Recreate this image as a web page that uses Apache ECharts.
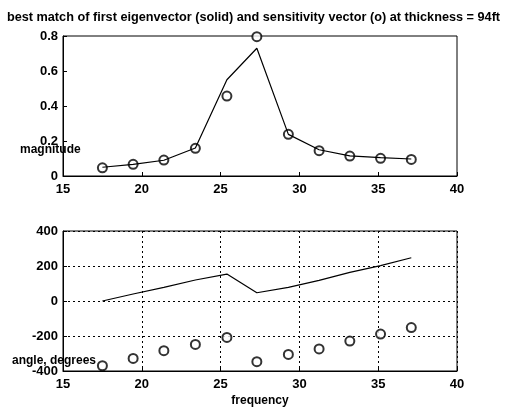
<!DOCTYPE html>
<html>
<head>
<meta charset="utf-8">
<script src="https://cdn.jsdelivr.net/npm/echarts@6/dist/echarts.min.js"></script>
<style>
  html, body { margin: 0; padding: 0; background: #fff; }
  #chart { width: 507px; height: 409px; }
</style>
</head>
<body>
<div id="chart"></div>
<script>
// frequency samples (shared by both panels)
const freq = [17.5, 19.45, 21.4, 23.4, 25.4, 27.3, 29.3, 31.25, 33.2, 35.15, 37.1]

// magnitude panel
const magEigen = [0.05, 0.066, 0.09, 0.16, 0.55, 0.73, 0.238, 0.15, 0.115, 0.105, 0.097]
const magSens = [0.047, 0.067, 0.091, 0.158, 0.457, 0.796, 0.238, 0.145, 0.114, 0.101, 0.095]

// angle panel (degrees)
const angEigen = [0, 40, 78, 120, 154, 47, 78, 118, 164, 202, 247]
const angSens = [-370, -328, -284, -248, -208, -347, -305, -274, -229, -189, -152]

const titleText = 'best match of first eigenvector (solid) and sensitivity vector (o) at thickness = 94ft'

const pairs = (xs, ys) => xs.map((x, i) => [x, ys[i]])

const font = 'Liberation Sans, Arial, sans-serif'
const labelStyle = { color: '#000', fontWeight: 'bold', fontSize: 13, fontFamily: font }

const makeX = (gridIndex, name) => ({
  type: 'value',
  gridIndex,
  min: 15,
  max: 40,
  interval: 5,
  name: name || '',
  nameLocation: 'middle',
  nameGap: 24,
  nameTextStyle: { color: '#000', fontWeight: 'bold', fontSize: 12, fontFamily: font },
  axisLine: { show: true, onZero: false, lineStyle: { color: '#000', width: 1 } },
  axisTick: { show: true, inside: true, length: 4, lineStyle: { color: '#000' } },
  axisLabel: { ...labelStyle, margin: 7 },
  splitLine: gridIndex === 1
    ? { show: true, lineStyle: { color: '#000', type: [2, 3], width: 1 } }
    : { show: false }
})

const makeY = (gridIndex, min, max, interval) => ({
  type: 'value',
  gridIndex,
  min,
  max,
  interval,
  axisLine: { show: true, onZero: false, lineStyle: { color: '#000', width: 1 } },
  axisTick: { show: true, inside: true, length: 4, lineStyle: { color: '#000' } },
  axisLabel: { ...labelStyle, margin: 5 },
  splitLine: gridIndex === 1
    ? { show: true, lineStyle: { color: '#000', type: [2, 3], width: 1 } }
    : { show: false }
})

const chart = echarts.init(document.getElementById('chart'))

const circleStyle = { color: '#000', borderColor: '#000', borderWidth: 1.1 }

const option = {
  backgroundColor: '#fff',
  animation: false,
  title: {
    text: titleText,
    left: 'center',
    top: 6,
    textStyle: { color: '#000', fontWeight: 'bold', fontSize: 12.7, fontFamily: font }
  },
  grid: [
    { left: 63, width: 394, top: 36, height: 140, show: true, borderColor: '#000', borderWidth: 1 },
    { left: 63, width: 394, top: 231, height: 140, show: true, borderColor: '#000', borderWidth: 1 }
  ],
  xAxis: [makeX(0), makeX(1, 'frequency')],
  yAxis: [makeY(0, 0, 0.8, 0.2), makeY(1, -400, 400, 200)],
  graphic: [
    {
      type: 'text', left: 20, top: 144,
      style: { text: 'magnitude', fill: '#000', font: 'bold 12px ' + font }
    },
    {
      type: 'text', left: 12, top: 355,
      style: { text: 'angle, degrees', fill: '#000', font: 'bold 12px ' + font }
    }
  ],
  series: [
    {
      type: 'line', xAxisIndex: 0, yAxisIndex: 0,
      data: pairs(freq, magEigen),
      showSymbol: false,
      lineStyle: { color: '#000', width: 1.2 }
    },
    {
      type: 'scatter', xAxisIndex: 0, yAxisIndex: 0,
      data: pairs(freq, magSens),
      symbol: 'emptyCircle', symbolSize: 9, clip: false,
      itemStyle: circleStyle
    },
    {
      type: 'line', xAxisIndex: 1, yAxisIndex: 1,
      data: pairs(freq, angEigen),
      showSymbol: false,
      lineStyle: { color: '#000', width: 1.2 }
    },
    {
      type: 'scatter', xAxisIndex: 1, yAxisIndex: 1,
      data: pairs(freq, angSens),
      symbol: 'emptyCircle', symbolSize: 9, clip: false,
      itemStyle: circleStyle
    }
  ]
}

chart.setOption(option)
</script>
</body>
</html>
